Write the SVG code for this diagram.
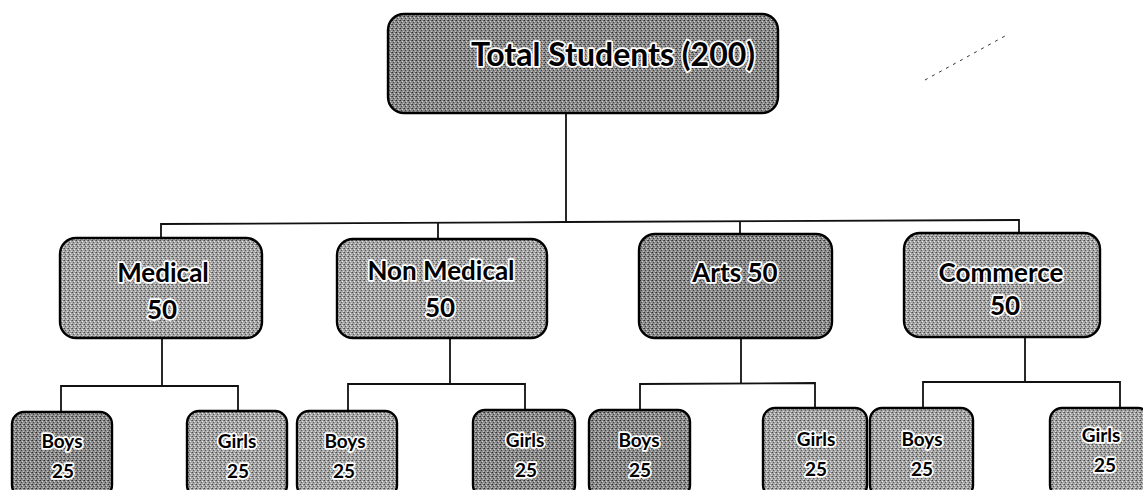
<svg xmlns="http://www.w3.org/2000/svg" width="1143" height="490" viewBox="0 0 1143 490">
<style>
.box{stroke:#000;stroke-width:2.4}
.mid{fill:url(#dither)}
.dark{fill:url(#ditherDark)}
.conn{stroke:#111;stroke-width:1.8;fill:none}
text{font-family:Lato,"Open Sans","Liberation Sans",sans-serif;font-weight:bold;fill:#000;stroke:#fff;stroke-width:3.5;paint-order:stroke;stroke-linejoin:round;text-anchor:middle}
.t1{font-size:32px}
.t2{font-size:26px}
.t3{font-size:19px}
</style>
<defs>
<pattern id="dither" width="4" height="4" patternUnits="userSpaceOnUse">
<rect width="4" height="4" fill="#a6a6a6"/>
<rect x="0" y="0" width="1" height="1" fill="#4a4a4a"/>
<rect x="2" y="1" width="1" height="1" fill="#e8e8e8"/>
<rect x="1" y="2" width="1" height="1" fill="#5a5a5a"/>
<rect x="3" y="3" width="1" height="1" fill="#dcdcdc"/>
<rect x="3" y="0" width="1" height="1" fill="#777"/>
</pattern>
<pattern id="ditherDark" width="4" height="4" patternUnits="userSpaceOnUse">
<rect width="4" height="4" fill="#8c8c8c"/>
<rect x="0" y="0" width="1" height="1" fill="#333"/>
<rect x="2" y="1" width="1" height="1" fill="#d0d0d0"/>
<rect x="1" y="2" width="1" height="1" fill="#444"/>
<rect x="3" y="3" width="1" height="1" fill="#c4c4c4"/>
<rect x="3" y="0" width="1" height="1" fill="#555"/>
</pattern>
</defs>
<rect width="1143" height="490" fill="#fff"/>
<g id="connectors">
<line class="conn" x1="566" y1="113" x2="566" y2="222"/>
<polyline class="conn" points="161,238 161,224 566,222 1019,220 1019,233"/>
<line class="conn" x1="438" y1="223" x2="438" y2="238"/>
<line class="conn" x1="740" y1="221" x2="740" y2="234"/>
<polyline class="conn" points="162,337 162,386"/>
<polyline class="conn" points="61,412 61,386 238,386 238,411"/>
<polyline class="conn" points="450,337 450,384"/>
<polyline class="conn" points="348,411 348,384 525,384 525,410"/>
<polyline class="conn" points="741,338 741,383"/>
<polyline class="conn" points="640,410 640,384 815,383 815,408"/>
<polyline class="conn" points="1025,337 1025,382"/>
<polyline class="conn" points="923,408 923,382 1120,382 1120,407"/>
<line x1="925" y1="80" x2="1005" y2="36" stroke="#333" stroke-width="1" stroke-dasharray="3,5"/>
</g>
<g id="total">
<rect class="box dark" x="388" y="14" width="390" height="99" rx="16"/>
<text class="t1" x="613" y="66">Total Students (200)</text>
</g>
<g id="medical">
<rect class="box mid" x="60" y="238" width="202" height="100" rx="16"/>
<text class="t2" x="163" y="282">Medical</text>
<text class="t2" x="162" y="319">50</text>
</g>
<g id="nonmedical">
<rect class="box mid" x="337" y="239" width="210" height="99" rx="16"/>
<text class="t2" x="441" y="280">Non Medical</text>
<text class="t2" x="440" y="317">50</text>
</g>
<g id="arts">
<rect class="box dark" x="639" y="234" width="193" height="104" rx="16"/>
<text class="t2" x="735" y="282">Arts 50</text>
</g>
<g id="commerce">
<rect class="box mid" x="904" y="233" width="196" height="104" rx="16"/>
<text class="t2" x="1001" y="282">Commerce</text>
<text class="t2" x="1005" y="315">50</text>
</g>
<g id="med-boys">
<rect class="box dark" x="12" y="412" width="100" height="85" rx="12"/>
<text class="t3" x="62" y="448">Boys</text>
<text class="t3" x="63" y="478">25</text>
</g>
<g id="med-girls">
<rect class="box mid" x="187" y="411" width="100" height="86" rx="12"/>
<text class="t3" x="237" y="448">Girls</text>
<text class="t3" x="238" y="478">25</text>
</g>
<g id="nm-boys">
<rect class="box mid" x="297" y="411" width="100" height="86" rx="12"/>
<text class="t3" x="345" y="448">Boys</text>
<text class="t3" x="344" y="478">25</text>
</g>
<g id="nm-girls">
<rect class="box dark" x="473" y="410" width="102" height="87" rx="12"/>
<text class="t3" x="525" y="447">Girls</text>
<text class="t3" x="526" y="477">25</text>
</g>
<g id="arts-boys">
<rect class="box dark" x="589" y="410" width="101" height="87" rx="12"/>
<text class="t3" x="639" y="447">Boys</text>
<text class="t3" x="640" y="477">25</text>
</g>
<g id="arts-girls">
<rect class="box mid" x="763" y="408" width="104" height="89" rx="12"/>
<text class="t3" x="816" y="446">Girls</text>
<text class="t3" x="816" y="476">25</text>
</g>
<g id="com-boys">
<rect class="box mid" x="870" y="408" width="103" height="89" rx="12"/>
<text class="t3" x="922" y="446">Boys</text>
<text class="t3" x="922" y="476">25</text>
</g>
<g id="com-girls">
<rect class="box mid" x="1050" y="408" width="100" height="89" rx="12"/>
<text class="t3" x="1101" y="442">Girls</text>
<text class="t3" x="1105" y="472">25</text>
</g>
</svg>
